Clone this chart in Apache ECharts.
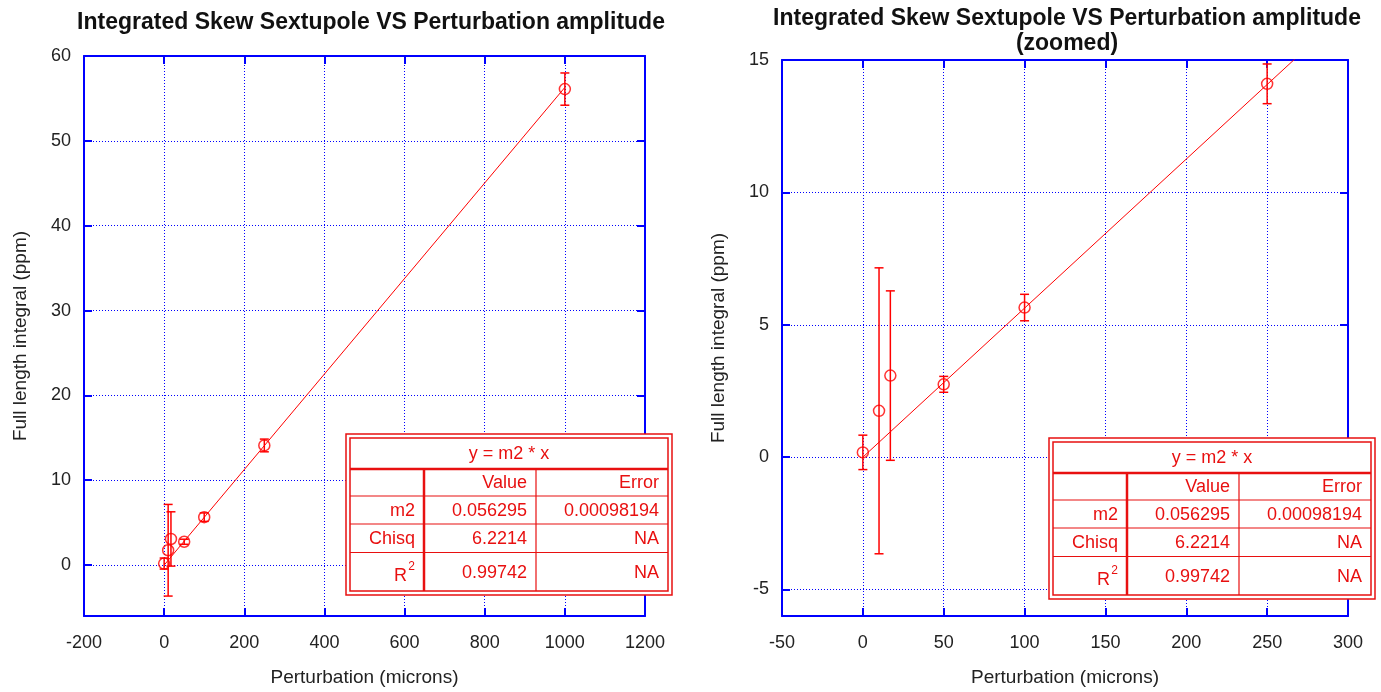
<!DOCTYPE html>
<html>
<head>
<meta charset="utf-8">
<title>Integrated Skew Sextupole VS Perturbation amplitude</title>
<script src="https://cdn.jsdelivr.net/npm/echarts@6/dist/echarts.min.js"></script>
<style>
	html, body { margin: 0; padding: 0; background: #fff; }
	#main { width: 1381px; height: 692px; }
</style>
</head>
<body>
<div id="main"></div>
<script>
// measured points (microns, ppm) and their error bars
var pertX = [0, 10, 17, 50, 100, 250, 1000];
var integY = [0.18, 1.75, 3.08, 2.75, 5.65, 14.1, 56.1];
var integErr = [0.65, 5.4, 3.2, 0.3, 0.5, 0.75, 1.9];

// fit y = m2 * x, end points of drawn line
var fitX = [0, 1000];
var fitY = [0, 56.295];

// tick values
var yTicksL = [0, 10, 20, 30, 40, 50, 60];
var yTicksR = [-5, 0, 5, 10, 15];

// fit result table
var fitTitle = 'y = m2 * x';
var fitHead = ['', 'Value', 'Error'];
var fitRows = [
	['m2', '0.056295', '0.00098194'],
	['Chisq', '6.2214', 'NA'],
	['R2', '0.99742', 'NA']
];

var BLUE = '#0000ff';
var RED = '#ff0000';
var TRED = '#e81010';
var FONT = 'Liberation Sans';

var grids = [
	{ left: 84, top: 56, width: 561, height: 564 },
	{ left: 782, top: 60, width: 566, height: 564 }
];

var chart = echarts.init(document.getElementById('main'));

function pts() {
	var out = [];
	for(var i = 0; i < pertX.length; i++) {
		out.push([pertX[i], integY[i], integErr[i]]);
	}
	return out;
}

function fitLine() {
	var out = [];
	for(var i = 0; i < fitX.length; i++) {
		out.push([fitX[i], fitY[i]]);
	}
	return out;
}

//error bars
function errRender(params, api) {
	var x = api.value(0), y = api.value(1), e = api.value(2);
	var t = api.coord([x, y + e]);
	var b = api.coord([x, y - e]);
	var w = 4.5;
	var st = { stroke: RED, lineWidth: 1.5 };
	return {
		type: 'group',
		children: [
			{ type: 'line', shape: { x1: t[0], y1: t[1], x2: b[0], y2: b[1] }, style: st },
			{ type: 'line', shape: { x1: t[0] - w, y1: t[1], x2: t[0] + w, y2: t[1] }, style: st },
			{ type: 'line', shape: { x1: b[0] - w, y1: b[1], x2: b[0] + w, y2: b[1] }, style: st }
		]
	};
}

function plain(v) {
	return String(v);
}

function xAxisOf(gi, pos, min, max, step, main) {
	return {
		type: 'value', gridIndex: gi, position: pos, min: min, max: max, interval: step,
		name: main ? 'Perturbation (microns)' : '',
		nameLocation: 'middle', nameGap: 52,
		nameTextStyle: { fontFamily: FONT, fontSize: 19, color: '#222' },
		axisLine: { show: true, onZero: false, lineStyle: { color: BLUE, width: 2 } },
		axisTick: { show: true, inside: true, length: 8, lineStyle: { color: BLUE, width: 2 } },
		axisLabel: { show: main, margin: 18, formatter: plain, fontFamily: FONT, fontSize: 18, color: '#222' },
		splitLine: { show: main, lineStyle: { color: BLUE, width: 1, type: [1, 2] } }
	};
}

function yAxisOf(gi, pos, min, max, ticks, main) {
	return {
		type: 'value', gridIndex: gi, position: pos, min: min, max: max,
		name: main ? 'Full length integral (ppm)' : '',
		nameLocation: 'middle', nameGap: 54,
		nameTextStyle: { fontFamily: FONT, fontSize: 19, color: '#222' },
		axisLine: { show: true, onZero: false, lineStyle: { color: BLUE, width: 2 } },
		axisTick: { show: true, inside: true, length: 8, customValues: ticks, lineStyle: { color: BLUE, width: 2 } },
		axisLabel: { show: main, margin: 13, customValues: ticks, formatter: plain, fontFamily: FONT, fontSize: 18, color: '#222' },
		splitLine: { show: main, lineStyle: { color: BLUE, width: 1, type: [1, 2] } }
	};
}

function seriesOf(gi) {
	var xi = gi * 2, yi = gi * 2;
	return [{
		type: 'line', xAxisIndex: xi, yAxisIndex: yi,
		data: fitLine(), showSymbol: false, silent: true, clip: true,
		lineStyle: { color: RED, width: 1 }, z: 3
	}, {
		type: 'custom', xAxisIndex: xi, yAxisIndex: yi,
		data: pts(), renderItem: errRender, clip: true, z: 4,
		encode: { x: 0, y: 1 }
	}, {
		type: 'scatter', xAxisIndex: xi, yAxisIndex: yi,
		data: pts(), symbol: 'circle', symbolSize: 11, clip: true,
		itemStyle: { color: 'rgba(255,255,255,0)', borderColor: RED, borderWidth: 1.5 }, z: 5
	}];
}

//fit table
function tableOf(gi) {
	var g = grids[gi];
	var W = 326, H = 161;
	var x0 = g.left + g.width + 27 - W;
	var y0 = g.top + g.height - 25 - H;
	var rowsY = [4, 35, 62, 90, 118.5, 157];
	var colX = [4, 78, 190, 322];
	var ch = [];
	ch.push({ type: 'rect', shape: { x: 0, y: 0, width: W, height: H }, style: { fill: '#fff', stroke: TRED, lineWidth: 1.5 } });
	ch.push({ type: 'rect', shape: { x: 4, y: 4, width: W - 8, height: H - 8 }, style: { fill: 'none', stroke: TRED, lineWidth: 1.5 } });
	ch.push({ type: 'line', shape: { x1: 4, y1: rowsY[1], x2: W - 4, y2: rowsY[1] }, style: { stroke: TRED, lineWidth: 2.5 } });
	for(var r = 2; r < 5; r++) {
		ch.push({ type: 'line', shape: { x1: 4, y1: rowsY[r], x2: W - 4, y2: rowsY[r] }, style: { stroke: TRED, lineWidth: 1.2 } });
	}
	ch.push({ type: 'line', shape: { x1: colX[1], y1: rowsY[1], x2: colX[1], y2: rowsY[5] }, style: { stroke: TRED, lineWidth: 2.5 } });
	ch.push({ type: 'line', shape: { x1: colX[2], y1: rowsY[1], x2: colX[2], y2: rowsY[5] }, style: { stroke: TRED, lineWidth: 1.2 } });
	var fs = 18;
	ch.push({ type: 'text', x: W / 2, y: (rowsY[0] + rowsY[1]) / 2 + 1, style: { text: fitTitle, align: 'center', verticalAlign: 'middle', fontFamily: FONT, fontSize: fs, fill: TRED } });
	var all = [fitHead].concat(fitRows);
	for(var i = 0; i < all.length; i++) {
		var cy = (rowsY[i + 1] + rowsY[i + 2]) / 2 + 1;
		for(var c = 0; c < 3; c++) {
			var txt = all[i][c];
			if(!txt) continue;
			var rx = colX[c + 1] - 9;
			if(txt === 'R2') {
				ch.push({ type: 'text', x: rx - 8, y: cy + 3, style: { text: 'R', align: 'right', verticalAlign: 'middle', fontFamily: FONT, fontSize: fs, fill: TRED } });
				ch.push({ type: 'text', x: rx, y: cy - 6, style: { text: '2', align: 'right', verticalAlign: 'middle', fontFamily: FONT, fontSize: 12, fill: TRED } });
				continue;
			}
			ch.push({ type: 'text', x: rx, y: cy, style: { text: txt, align: 'right', verticalAlign: 'middle', fontFamily: FONT, fontSize: fs, fill: TRED } });
		}
	}
	for(var k = 0; k < ch.length; k++) {
		ch[k].z = 100;
	}
	return { type: 'group', x: x0, y: y0, z: 100, children: ch };
}

var option = {
	backgroundColor: '#fff',
	animation: false,
	title: [{
		text: 'Integrated Skew Sextupole VS Perturbation amplitude',
		left: 366, top: 6, textAlign: 'center',
		textStyle: { fontFamily: FONT, fontSize: 23, fontWeight: 'bold', color: '#111' }
	}, {
		text: 'Integrated Skew Sextupole VS Perturbation amplitude\n(zoomed)',
		left: 1062, top: 1, textAlign: 'center',
		textStyle: { fontFamily: FONT, fontSize: 23, fontWeight: 'bold', color: '#111', lineHeight: 25 }
	}],
	grid: grids,
	xAxis: [
		xAxisOf(0, 'bottom', -200, 1200, 200, true),
		xAxisOf(0, 'top', -200, 1200, 200, false),
		xAxisOf(1, 'bottom', -50, 300, 50, true),
		xAxisOf(1, 'top', -50, 300, 50, false)
	],
	yAxis: [
		yAxisOf(0, 'left', -6, 60, yTicksL, true),
		yAxisOf(0, 'right', -6, 60, yTicksL, false),
		yAxisOf(1, 'left', -6, 15, yTicksR, true),
		yAxisOf(1, 'right', -6, 15, yTicksR, false)
	],
	series: seriesOf(0).concat(seriesOf(1)),
	graphic: [tableOf(0), tableOf(1)]
};

chart.setOption(option);
</script>
</body>
</html>
